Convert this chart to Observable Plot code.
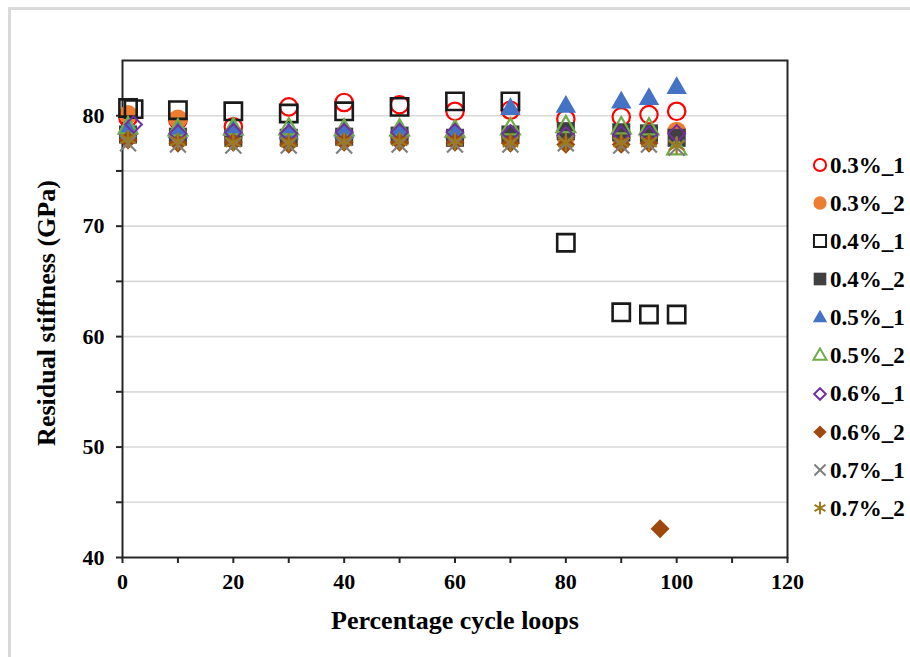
<!DOCTYPE html>
<html><head><meta charset="utf-8">
<script src="https://cdn.jsdelivr.net/npm/d3@7"></script>
<script src="https://cdn.jsdelivr.net/npm/@observablehq/plot@0.6"></script>
<style>
html,body{margin:0;padding:0;background:#fff;overflow:hidden;}
#wrap{position:relative;width:910px;height:657px;overflow:hidden;background:#fff;}
#border{position:absolute;left:8px;top:7px;width:1000px;height:1000px;border:3px solid #d9d9d9;box-sizing:border-box;}
#chart{position:absolute;left:0;top:0;}
#chart text{font-weight:bold;}
#legend{position:absolute;left:0;top:0;width:910px;height:657px;font-family:"Liberation Serif","Times New Roman",serif;font-weight:bold;font-size:23px;color:#000;}
.row{position:absolute;left:811px;height:30px;display:flex;align-items:center;white-space:nowrap;}
.row span{line-height:1;margin-left:1px;}
</style></head><body>
<div id="wrap"><div id="border"></div><div id="chart"></div><div id="legend"></div></div>
<script>
// ---- data ----
const seriesNames = ["0.3%_1","0.3%_2","0.4%_1","0.4%_2","0.5%_1","0.5%_2","0.6%_1","0.6%_2","0.7%_1","0.7%_2"];
const cycles    = [1, 10, 20, 30, 40, 50, 60, 70, 80, 90, 95, 100];
const cycles04_1 = [1, 2, 10, 20, 30, 40, 50, 60, 70, 80, 90, 95, 100];
const cycles06_1 = [2, 10, 20, 30, 40, 50, 60, 70, 80, 90, 95, 100];
const cycles06_2 = [1, 10, 20, 30, 40, 50, 60, 70, 80, 90, 95, 97];

const s03_1 = [79.8, 79.6, 79.0, 80.8, 81.2, 81.0, 80.4, 80.5, 79.7, 79.9, 80.1, 80.4];
const s03_2 = [80.1, 79.7, 78.2, 78.1, 78.3, 78.2, 78.0, 78.2, 78.1, 78.0, 78.2, 78.6];
const s04_1 = [80.7, 80.6, 80.5, 80.4, 80.2, 80.4, 80.8, 81.3, 81.3, 68.5, 62.2, 62.0, 62.0];
const s04_2 = [78.3, 78.1, 78.0, 78.0, 78.1, 78.2, 78.0, 78.3, 78.6, 78.5, 78.4, 78.0];
const s05_1 = [78.8, 78.5, 78.7, 78.4, 78.5, 78.6, 78.5, 80.6, 80.8, 81.2, 81.5, 82.5];
const s05_2 = [78.9, 78.7, 78.8, 78.8, 78.7, 78.7, 78.6, 78.8, 79.0, 78.9, 78.8, 77.0];
const s06_1 = [79.2, 78.4, 78.5, 78.4, 78.5, 78.5, 78.5, 78.4, 78.2, 78.3, 78.3, 78.4];
const s06_2 = [77.8, 77.5, 77.6, 77.4, 77.6, 77.6, 77.6, 77.5, 77.4, 77.4, 77.5, 42.6];
const s07_1 = [77.5, 77.4, 77.3, 77.3, 77.3, 77.4, 77.4, 77.4, 77.5, 77.3, 77.4, 77.1];
const s07_2 = [77.9, 77.7, 77.6, 77.6, 77.7, 77.7, 77.7, 77.6, 77.6, 77.6, 77.6, 77.3];

const xTicks = [0, 20, 40, 60, 80, 100, 120];
const xMinor = [10, 30, 50, 70, 90, 110];
const yTicks = [40, 50, 60, 70, 80];
const yMinor = [45, 55, 65, 75];
const yGrid = [45, 50, 55, 60, 65, 70, 75, 80];

// ---- styles ----
const styles = [
  {symbol:"circle",    fill:"none",    stroke:"#ff0000", r:8.7,  sw:2.2},
  {symbol:"circle",    fill:"#ed7d31", stroke:"none",    r:9.5,  sw:0},
  {symbol:"square2",   fill:"none",    stroke:"#1a1a1a", r:11,   sw:2.6},
  {symbol:"square",    fill:"#404040", stroke:"none",    r:10.2, sw:0},
  {symbol:"triangle",  fill:"#4472c4", stroke:"none",    r:7.6,  sw:0},
  {symbol:"triangle2", fill:"none",    stroke:"#70ad47", r:9,    sw:2.2},
  {symbol:"diamond2",  fill:"none",    stroke:"#7030a0", r:7.5,  sw:2},
  {symbol:"diamond2",  fill:"#9e480e", stroke:"none",    r:8.5,  sw:0},
  {symbol:"times",     fill:"none",    stroke:"#7f7f7f", r:7.3,  sw:2.2},
  {symbol:"asterisk",  fill:"none",    stroke:"#9c7a1f", r:8.5,  sw:2.2}
];
const xsBySeries = [cycles, cycles, cycles04_1, cycles, cycles, cycles, cycles06_1, cycles06_2, cycles, cycles];
const ysBySeries = [s03_1, s03_2, s04_1, s04_2, s05_1, s05_2, s06_1, s06_2, s07_1, s07_2];

const font = '"Liberation Serif","Times New Roman",serif';

const dots = seriesNames.map((name, i) => {
  const st = styles[i];
  const data = ysBySeries[i].map((v, j) => ({x: xsBySeries[i][j], y: v, s: name}));
  return Plot.dot(data, {x: "x", y: "y", symbol: st.symbol, r: st.r, fill: st.fill, stroke: st.stroke, strokeWidth: st.sw});
});

const chart = Plot.plot({
  width: 910, height: 657,
  marginLeft: 122, marginRight: 123, marginTop: 60, marginBottom: 100,
  x: {domain: [0, 120]},
  y: {domain: [40, 85]},
  style: {fontFamily: font, fontWeight: "bold", color: "#000", background: "transparent", overflow: "visible"},
  marks: [
    Plot.ruleY(yGrid, {stroke: "#d9d9d9", strokeWidth: 1.6}),
    Plot.axisY({ticks: yTicks, tickSize: 6, tickPadding: 12, fontSize: 22, fontWeight: "bold", label: null, strokeWidth: 2, stroke: "#262626", fill: "#000"}),
    Plot.axisY({ticks: yMinor, tickSize: 6, tickFormat: () => "", label: null, strokeWidth: 2, stroke: "#262626"}),
    Plot.axisX({ticks: xTicks, tickSize: 6, tickPadding: 10, fontSize: 22, fontWeight: "bold", label: null, strokeWidth: 2, stroke: "#262626", fill: "#000"}),
    Plot.axisX({ticks: xMinor, tickSize: 6, tickFormat: () => "", label: null, strokeWidth: 2, stroke: "#262626"}),
    Plot.frame({stroke: "#262626", strokeWidth: 2}),
    ...dots,
    Plot.text(["Residual stiffness (GPa)"], {text: d => d, frameAnchor: "left", textAnchor: "middle", lineAnchor: "middle", dx: -76, dy: 4, rotate: -90, fontSize: 26, fontWeight: "bold"}),
    Plot.text(["Percentage cycle loops"], {text: d => d, frameAnchor: "bottom", textAnchor: "middle", lineAnchor: "middle", dy: 63, fontSize: 26, fontWeight: "bold"})
  ]
});
document.getElementById("chart").appendChild(chart);

// ---- legend ----
const symMap = {circle: d3.symbolCircle, square: d3.symbolSquare, square2: d3.symbolSquare2,
  triangle: d3.symbolTriangle, triangle2: d3.symbolTriangle2, diamond2: d3.symbolDiamond2,
  times: d3.symbolTimes, asterisk: d3.symbolAsterisk};
const legend = d3.select("#legend");
seriesNames.forEach((name, i) => {
  const st = styles[i];
  const row = legend.append("div").attr("class", "row").style("top", (165 + i * 38.15 - 15) + "px");
  const svg = row.append("svg").attr("width", 18).attr("height", 18);
  const rr = st.r * 0.7;
  svg.append("path")
    .attr("transform", "translate(9,9)")
    .attr("d", d3.symbol(symMap[st.symbol], Math.PI * rr * rr)())
    .attr("fill", st.fill).attr("stroke", st.stroke).attr("stroke-width", st.sw ? 2 : 0);
  row.append("span").text(name);
});
</script>
</body></html>
